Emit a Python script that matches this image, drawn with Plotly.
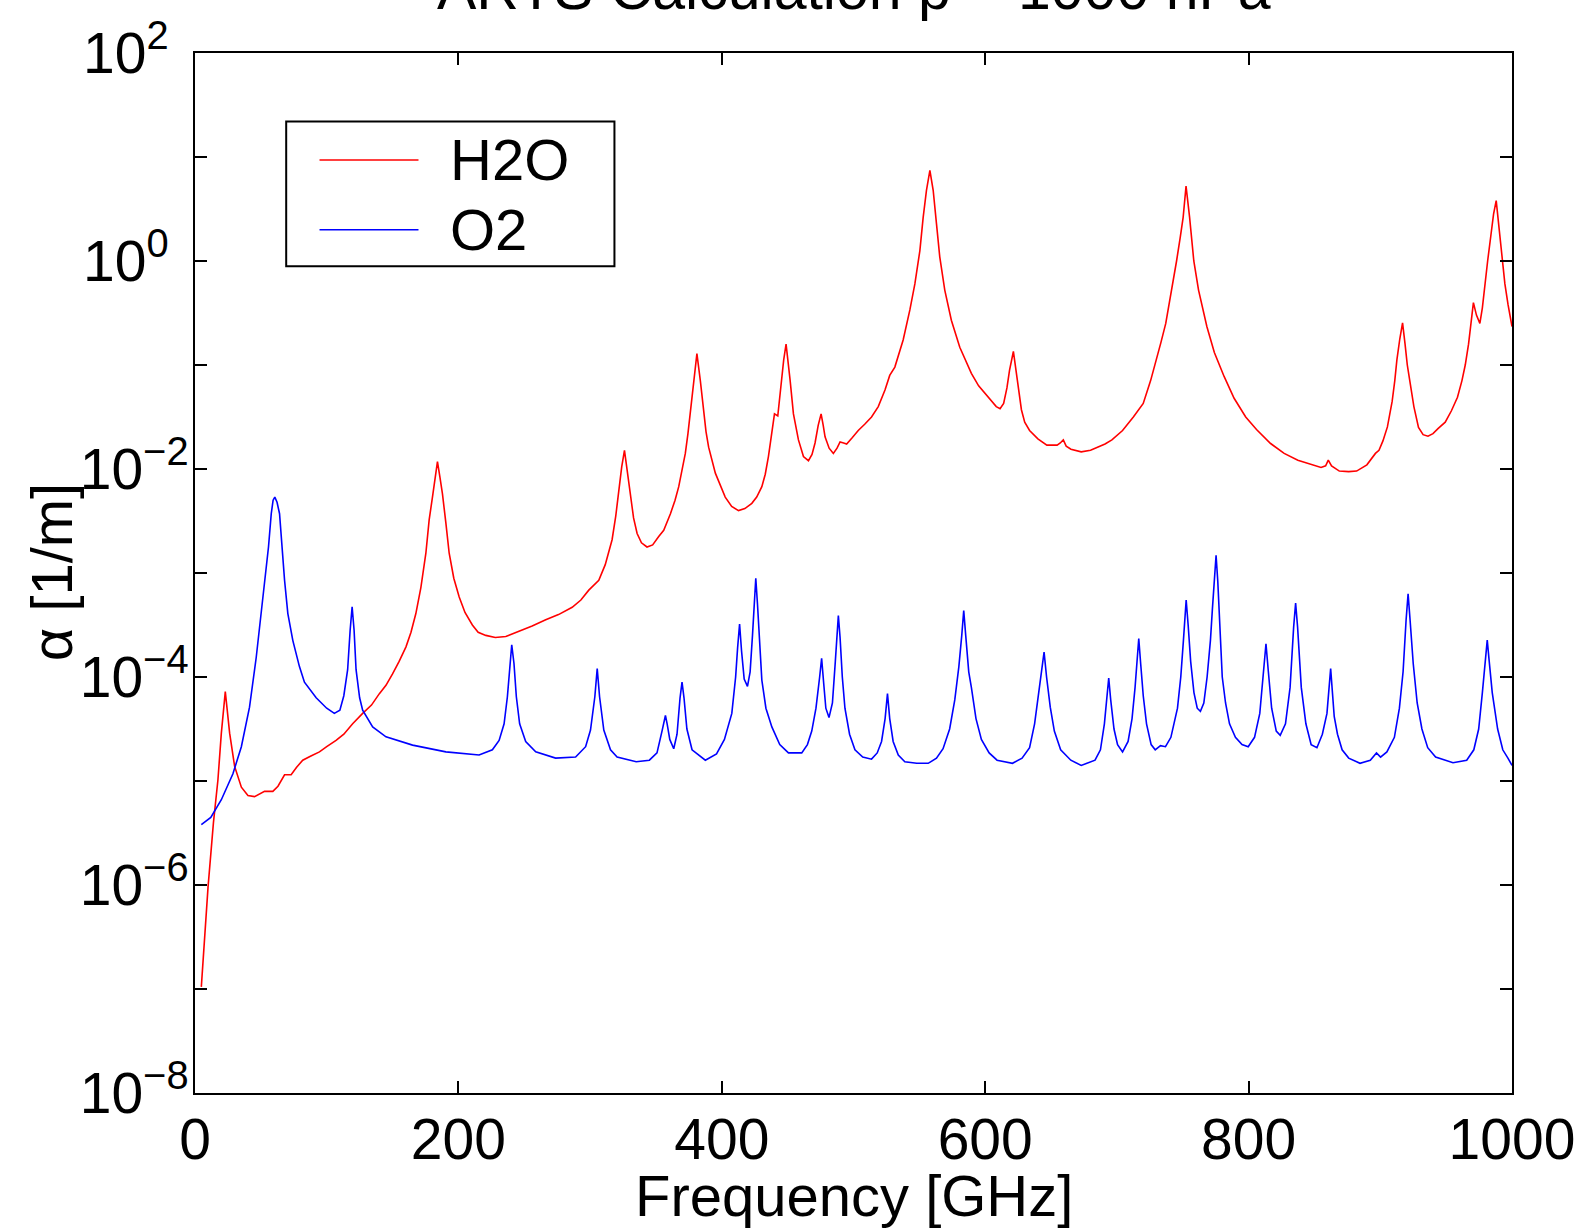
import numpy as np
import plotly.graph_objects as go

# ---- data (frequency in GHz, log10 of absorption coefficient in 1/m)
h2o_freq = [4.8, 9.9, 14.0, 17.4, 20.0, 23.0, 26.3, 30.1, 35.2, 40.2, 45.2, 52.8, 59.1, 63.0,
            68.0, 73.0, 77.0, 81.8, 88.0, 94.5, 100.0, 107.1, 113.0, 119.7, 127.3, 134.0, 140.0,
            145.0, 150.0, 155.0, 160.2, 164.0, 167.7, 171.5, 175.3, 177.8, 180.3, 182.3, 184.1,
            186.0, 187.9, 190.5, 193.0, 196.5, 200.6, 205.0, 210.6, 215.0, 220.8, 228.0, 236.0,
            246.0, 256.0, 266.3, 276.0, 286.4, 293.0, 299.0, 306.6, 311.5, 316.7, 319.5, 321.8,
            324.0, 326.1, 328.3, 330.6, 333.0, 335.7, 339.0, 343.2, 347.5, 352.1, 355.9, 361.0,
            364.5, 367.3, 370.0, 372.3, 374.3, 376.1, 378.6, 381.1, 383.7, 386.2, 388.0, 390.0,
            395.1, 402.6, 407.5, 412.7, 417.5, 422.8, 426.5, 430.4, 433.0, 435.4, 437.9, 440.0,
            442.5, 445.1, 447.0, 448.8, 450.4, 451.9, 454.4, 458.2, 462.0, 465.8, 468.5, 470.8,
            473.2, 475.4, 477.0, 478.4, 481.5, 484.7, 487.5, 489.8, 492.5, 494.8, 499.0, 503.6,
            508.5, 513.7, 518.8, 523.9, 527.5, 531.4, 537.7, 542.8, 546.6, 550.4, 552.9, 555.4,
            558.0, 560.5, 563.0, 565.5, 569.3, 574.3, 580.7, 589.5, 595.0, 599.6, 604.0, 608.4,
            611.3, 614.0, 616.5, 618.5, 621.4, 623.5, 625.5, 627.5, 630.0, 633.7, 640.0, 646.8,
            654.6, 657.0, 659.3, 661.5, 665.1, 672.9, 680.0, 686.0, 691.0, 696.2, 704.3, 712.5,
            717.0, 720.0, 725.6, 730.0, 733.5, 737.1, 741.0, 745.3, 748.0, 750.3, 752.5, 755.2,
            758.4, 762.0, 768.3, 774.0, 781.4, 789.0, 797.8, 806.0, 816.7, 827.0, 837.4, 846.0,
            855.0, 858.5, 860.5, 863.0, 868.9, 876.0, 882.0, 889.8, 893.5, 896.3, 899.0, 902.0,
            905.4, 909.0, 911.0, 912.6, 914.8, 916.9, 918.8, 920.5, 922.5, 925.5, 929.0, 932.5,
            936.2, 940.0, 944.0, 949.3, 954.0, 958.6, 962.0, 964.5, 967.0, 969.0, 970.7, 973.0,
            975.6, 977.5, 979.5, 981.5, 984.0, 986.0, 988.0, 990.0, 992.0, 994.6, 997.0, 1000.0]
h2o_log_alpha = [-6.98, -6.02, -5.40, -4.99, -4.54, -4.14, -4.54, -4.86, -5.06, -5.14, -5.15, -5.10,
                 -5.10, -5.05, -4.94, -4.94, -4.87, -4.80, -4.76, -4.72, -4.67, -4.61, -4.55, -4.45,
                 -4.35, -4.27, -4.16, -4.08, -3.97, -3.85, -3.71, -3.57, -3.39, -3.14, -2.81, -2.49,
                 -2.27, -2.08, -1.93, -2.08, -2.24, -2.52, -2.81, -3.05, -3.23, -3.38, -3.50, -3.57,
                 -3.60, -3.62, -3.61, -3.56, -3.51, -3.45, -3.40, -3.33, -3.26, -3.165, -3.07, -2.92,
                 -2.68, -2.45, -2.20, -1.98, -1.82, -2.02, -2.27, -2.47, -2.62, -2.71, -2.75, -2.73,
                 -2.65, -2.59, -2.43, -2.30, -2.17, -2.00, -1.85, -1.66, -1.47, -1.15, -0.89, -1.15,
                 -1.47, -1.64, -1.79, -2.04, -2.27, -2.36, -2.40, -2.38, -2.33, -2.27, -2.17, -2.05,
                 -1.88, -1.63, -1.47, -1.49, -1.15, -0.95, -0.80, -0.97, -1.15, -1.47, -1.72, -1.88,
                 -1.92, -1.86, -1.75, -1.58, -1.47, -1.58, -1.69, -1.80, -1.85, -1.80, -1.74, -1.75,
                 -1.76, -1.70, -1.63, -1.57, -1.50, -1.40, -1.24, -1.10, -1.02, -0.76, -0.47, -0.22,
                 0.10, 0.42, 0.68, 0.872, 0.68, 0.36, 0.04, -0.28, -0.57, -0.83, -1.08, -1.20,
                 -1.27, -1.34, -1.40, -1.42, -1.37, -1.22, -1.05, -0.87, -1.05, -1.27, -1.43, -1.55,
                 -1.63, -1.71, -1.77, -1.77, -1.75, -1.72, -1.78, -1.81, -1.835, -1.82, -1.79, -1.76,
                 -1.72, -1.63, -1.50, -1.42, -1.37, -1.15, -0.95, -0.78, -0.60, -0.33, 0.0, 0.22,
                 0.42, 0.72, 0.42, 0.0, -0.28, -0.63, -0.88, -1.11, -1.32, -1.50, -1.62, -1.755,
                 -1.85, -1.915, -1.95, -1.985, -1.97, -1.915, -1.97, -2.02, -2.025, -2.02, -1.96, -1.90,
                 -1.85, -1.82, -1.73, -1.595, -1.35, -1.15, -0.95, -0.75, -0.595, -0.80, -1.0, -1.16,
                 -1.40, -1.60, -1.67, -1.685, -1.66, -1.61, -1.55, -1.44, -1.31, -1.15, -1.0, -0.80,
                 -0.55, -0.40, -0.52, -0.60, -0.45, -0.20, 0.0, 0.25, 0.45, 0.58, 0.35, 0.10,
                 -0.22, -0.42, -0.63]

o2_freq = [4.8, 12.0, 20.0, 28.8, 35.2, 41.4, 46.5, 50.3, 53.3, 55.8, 57.9, 59.3, 60.6, 62.3,
           64.2, 66.0, 68.0, 70.5, 74.3, 79.3, 83.1, 92.0, 100.0, 105.8, 110.0, 113.0, 115.9,
           117.8, 119.3, 120.8, 122.3, 125.0, 127.3, 134.9, 145.0, 165.2, 190.5, 215.7, 225.8,
           230.9, 234.7, 237.2, 239.0, 240.5, 242.2, 244.0, 246.5, 251.1, 258.7, 273.8, 289.0,
           296.6, 300.3, 303.6, 305.4, 307.2, 310.4, 315.5, 320.5, 335.0, 345.0, 350.8, 354.6,
           356.0, 357.2, 358.5, 360.5, 363.5, 366.0, 368.3, 369.8, 371.3, 373.5, 377.4, 387.5,
           396.0, 402.0, 407.6, 410.5, 412.0, 413.5, 415.0, 417.0, 419.5, 421.5, 423.3, 424.5,
           425.8, 427.1, 428.5, 430.4, 433.5, 438.0, 444.0, 450.6, 460.7, 465.0, 468.3, 471.5,
           474.3, 475.8, 477.3, 479.0, 481.4, 484.0, 486.2, 487.2, 488.5, 489.8, 491.5, 493.5,
           497.0, 501.1, 507.0, 513.7, 518.0, 521.3, 524.0, 525.8, 527.5, 530.1, 534.0, 539.0,
           548.0, 556.7, 563.0, 568.0, 573.0, 576.9, 580.0, 582.2, 583.7, 585.2, 587.5, 589.5,
           593.0, 597.1, 603.0, 609.0, 620.7, 628.0, 633.7, 637.5, 640.2, 642.8, 644.7, 646.6,
           649.4, 652.5, 657.3, 665.0, 672.9, 683.4, 687.5, 690.5, 692.3, 693.8, 695.3, 697.8,
           700.5, 704.3, 708.5, 711.5, 713.8, 715.2, 716.6, 718.1, 720.0, 722.5, 726.0, 729.1,
           733.1, 736.9, 741.0, 746.0, 748.5, 750.5, 752.6, 754.1, 756.0, 758.5, 761.0, 763.4,
           766.0, 768.5, 771.0, 772.5, 774.0, 775.3, 776.6, 778.2, 780.0, 782.5, 785.5, 790.0,
           795.0, 799.7, 804.5, 808.5, 811.0, 813.2, 815.0, 817.5, 821.0, 824.0, 828.0, 831.5,
           834.2, 835.7, 837.2, 840.0, 843.5, 847.5, 851.9, 856.0, 859.5, 862.3, 865.0, 867.5,
           871.0, 876.0, 884.6, 892.4, 897.1, 900.2, 905.0, 910.7, 914.5, 917.3, 919.6, 921.1,
           922.6, 925.0, 928.0, 931.6, 936.0, 942.0, 955.2, 965.6, 971.0, 974.7, 977.5, 979.7,
           981.2, 982.7, 985.0, 989.1, 993.0, 996.9, 1000.0]
o2_log_alpha = [-5.42, -5.35, -5.18, -4.93, -4.67, -4.29, -3.81, -3.39, -3.07, -2.75, -2.43, -2.30,
                -2.27, -2.32, -2.43, -2.75, -3.07, -3.39, -3.65, -3.90, -4.05, -4.20, -4.30, -4.35,
                -4.32, -4.18, -3.93, -3.55, -3.325, -3.55, -3.93, -4.20, -4.32, -4.48, -4.575, -4.655,
                -4.72, -4.75, -4.70, -4.61, -4.45, -4.19, -3.87, -3.69, -3.87, -4.19, -4.45, -4.62,
                -4.72, -4.78, -4.77, -4.67, -4.51, -4.19, -3.92, -4.19, -4.51, -4.70, -4.77, -4.815,
                -4.80, -4.73, -4.52, -4.42, -4.37, -4.45, -4.60, -4.69, -4.55, -4.20, -4.05, -4.20,
                -4.50, -4.70, -4.80, -4.74, -4.60, -4.35, -4.00, -3.72, -3.49, -3.75, -4.02, -4.09,
                -3.95, -3.60, -3.28, -3.05, -3.30, -3.65, -4.03, -4.30, -4.48, -4.65, -4.73, -4.73,
                -4.65, -4.52, -4.30, -4.00, -3.82, -4.05, -4.30, -4.39, -4.25, -3.85, -3.60, -3.41,
                -3.62, -4.00, -4.30, -4.55, -4.70, -4.77, -4.79, -4.73, -4.62, -4.40, -4.16, -4.40,
                -4.62, -4.75, -4.815, -4.83, -4.83, -4.78, -4.69, -4.50, -4.22, -3.90, -3.60, -3.36,
                -3.60, -3.95, -4.10, -4.40, -4.60, -4.73, -4.80, -4.83, -4.78, -4.68, -4.45, -4.20,
                -3.98, -3.76, -4.00, -4.29, -4.52, -4.70, -4.80, -4.85, -4.80, -4.70, -4.45, -4.20,
                -4.01, -4.22, -4.50, -4.65, -4.72, -4.62, -4.40, -4.10, -3.85, -3.63, -3.88, -4.18,
                -4.45, -4.65, -4.70, -4.66, -4.67, -4.58, -4.30, -4.00, -3.65, -3.26, -3.50, -3.85,
                -4.15, -4.30, -4.33, -4.25, -4.00, -3.65, -3.35, -3.05, -2.83, -3.08, -3.55, -4.00,
                -4.25, -4.45, -4.58, -4.65, -4.67, -4.58, -4.35, -4.00, -3.68, -3.95, -4.30, -4.52,
                -4.56, -4.45, -4.10, -3.52, -3.29, -3.52, -4.10, -4.45, -4.65, -4.68, -4.55, -4.35,
                -3.92, -4.38, -4.55, -4.70, -4.78, -4.83, -4.80, -4.73, -4.77, -4.72, -4.58, -4.30,
                -3.95, -3.45, -3.20, -3.45, -3.87, -4.25, -4.50, -4.68, -4.77, -4.825, -4.80, -4.70,
                -4.50, -4.15, -3.85, -3.645, -3.85, -4.15, -4.50, -4.70, -4.78, -4.85]

series_names = ["H2O", "O2"]
series_colors = ["#ff0000", "#0000ff"]

x_ticks = [0, 200, 400, 600, 800, 1000]
y_tick_vals = [1e-8, 1e-7, 1e-6, 1e-5, 1e-4, 1e-3, 1e-2, 1e-1, 1e0, 1e1, 1e2]
y_tick_text = ["10<sup>\u22128</sup>", "", "10<sup>\u22126</sup>", "", "10<sup>\u22124</sup>", "",
               "10<sup>\u22122</sup>", "", "10<sup>0\u2002</sup>", "", "10<sup>2\u2002</sup>"]

title_text = "ARTS Calculation p = 1000 hPa"
x_title = "Frequency [GHz]"
y_title = "\u03b1 [1/m]"

FONT = "Liberation Sans, Arial, Helvetica, sans-serif"

h2o_alpha = np.power(10.0, h2o_log_alpha)
o2_alpha = np.power(10.0, o2_log_alpha)

fig = go.Figure()
fig.add_trace(go.Scatter(x=h2o_freq, y=h2o_alpha, mode="lines", name=series_names[0],
                         line=dict(color=series_colors[0], width=1.6)))
fig.add_trace(go.Scatter(x=o2_freq, y=o2_alpha, mode="lines", name=series_names[1],
                         line=dict(color=series_colors[1], width=1.6)))

axis_common = dict(showline=True, linecolor="black", linewidth=2, mirror="ticks",
                   ticks="inside", ticklen=12, tickwidth=1.5, tickcolor="black",
                   showgrid=False, zeroline=False,
                   tickfont=dict(family=FONT, size=57, color="black"))

fig.update_xaxes(range=[0, 1000], tickvals=x_ticks, ticktext=[str(v) for v in x_ticks],
                 ticklabelstandoff=-4, **axis_common)
fig.update_yaxes(type="log", range=[-8, 2], tickvals=y_tick_vals, ticktext=y_tick_text,
                 ticklabelstandoff=-7, **axis_common)

W, H = 1587, 1228
L, R, T, B = 195, 72, 53, 135
pw, ph = W - L - R, H - T - B

def px(X):
    return (X - L) / pw

def py(Y):
    return (H - B - Y) / ph

annotations = [
    dict(text=title_text, x=0.5, y=py(-11), xref="paper", yref="paper", showarrow=False,
         xanchor="center", yanchor="middle", font=dict(family=FONT, size=59, color="black")),
    dict(text=x_title, x=0.5, y=py(1195), xref="paper", yref="paper", showarrow=False,
         xanchor="center", yanchor="middle", font=dict(family=FONT, size=58, color="black")),
    dict(text=y_title, x=px(51), y=py(572), xref="paper", yref="paper", showarrow=False,
         xanchor="center", yanchor="middle", textangle=-90,
         font=dict(family=FONT, size=58, color="black")),
]
shapes = [
    dict(type="rect", xref="paper", yref="paper", x0=px(286.4), x1=px(615.4),
         y0=py(266.2), y1=py(121.5), line=dict(color="black", width=2), fillcolor="white",
         layer="above"),
]
legend_rows = [160, 229.7]
for name, color, row in zip(series_names, series_colors, legend_rows):
    shapes.append(dict(type="line", xref="paper", yref="paper", x0=px(319.8), x1=px(419),
                       y0=py(row), y1=py(row), line=dict(color=color, width=1.6), layer="above"))
    annotations.append(dict(text=name, x=px(449), y=py(row), xref="paper", yref="paper",
                            showarrow=False, xanchor="left", yanchor="middle",
                            font=dict(family=FONT, size=58, color="black")))

fig.update_layout(width=W, height=H, margin=dict(l=L, r=R, t=T, b=B, pad=0),
                  paper_bgcolor="white", plot_bgcolor="white", showlegend=False,
                  annotations=annotations, shapes=shapes)

fig.write_html("out.html", config={"displayModeBar": False},
               post_script="document.body.style.margin='0';document.body.style.overflow='hidden';")
